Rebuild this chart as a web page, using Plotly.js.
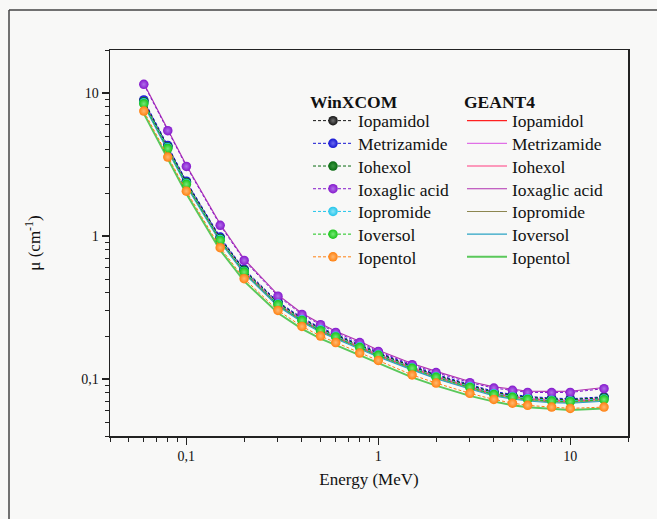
<!DOCTYPE html>
<html>
<head>
<meta charset="utf-8">
<script src="https://cdn.plot.ly/plotly-3.0.1.min.js"></script>
<style>html,body{margin:0;padding:0;background:#f8f8f7;}#chart{width:657px;height:519px;}</style>
</head>
<body>
<div id="chart"></div>
<script>
// Photon energies (MeV)
const energy = [0.06,0.08,0.1,0.15,0.2,0.3,0.4,0.5,0.6,0.8,1,1.5,2,3,4,5,6,8,10,15];

// Material names
const materials = ["Iopamidol","Metrizamide","Iohexol","Ioxaglic acid","Iopromide","Ioversol","Iopentol"];

// WinXCOM values (cm^-1)
const wx_iopamidol   = [8.79,4.24,2.39,0.97,0.58,0.343,0.266,0.226,0.204,0.172,0.152,0.123,0.1068,0.0907,0.081,0.0773,0.0748,0.0728,0.0721,0.0745];
const wx_metrizamide = [8.95,4.30,2.42,0.985,0.587,0.347,0.269,0.229,0.206,0.174,0.154,0.1245,0.108,0.0918,0.082,0.0782,0.0757,0.0737,0.0729,0.0752];
const wx_iohexol     = [8.70,4.20,2.37,0.962,0.576,0.340,0.264,0.224,0.202,0.171,0.151,0.122,0.106,0.090,0.0805,0.0768,0.0744,0.0724,0.0717,0.0741];
const wx_ioxaglic    = [11.5,5.46,3.07,1.19,0.676,0.380,0.283,0.240,0.212,0.180,0.156,0.126,0.111,0.0944,0.0865,0.0834,0.0807,0.0805,0.0807,0.0857];
const wx_iopromide   = [8.55,4.14,2.33,0.945,0.566,0.335,0.260,0.221,0.199,0.168,0.148,0.120,0.104,0.0885,0.079,0.0754,0.073,0.0711,0.0704,0.0727];
const wx_ioversol    = [8.43,4.09,2.30,0.933,0.560,0.331,0.257,0.218,0.197,0.166,0.1465,0.119,0.103,0.0875,0.078,0.0745,0.0721,0.0702,0.0695,0.0718];
const wx_iopentol    = [7.48,3.57,2.06,0.83,0.504,0.302,0.2336,0.200,0.180,0.152,0.135,0.107,0.0938,0.0795,0.0721,0.0679,0.0655,0.0637,0.0624,0.0637];

// GEANT4 values (cm^-1)
const g4_iopamidol   = [8.57,4.13,2.33,0.946,0.566,0.334,0.259,0.220,0.199,0.168,0.148,0.120,0.104,0.0884,0.079,0.0754,0.0729,0.071,0.0703,0.0726];
const g4_metrizamide = [8.73,4.19,2.36,0.960,0.572,0.338,0.262,0.223,0.201,0.170,0.150,0.1214,0.1053,0.0895,0.080,0.0762,0.0738,0.0719,0.0711,0.0733];
const g4_iohexol     = [8.48,4.10,2.31,0.938,0.562,0.332,0.257,0.218,0.197,0.167,0.147,0.119,0.1034,0.0878,0.0785,0.0749,0.0725,0.0706,0.0699,0.0722];
const g4_ioxaglic    = [11.7,5.57,3.13,1.215,0.69,0.388,0.289,0.245,0.216,0.184,0.159,0.1285,0.1132,0.0963,0.0882,0.0851,0.0823,0.0821,0.0823,0.0874];
const g4_iopromide   = [8.34,4.04,2.27,0.921,0.552,0.327,0.2535,0.2155,0.194,0.164,0.1443,0.117,0.1014,0.0863,0.077,0.0735,0.0712,0.0693,0.0686,0.0709];
const g4_ioversol    = [8.22,3.99,2.24,0.910,0.546,0.323,0.2506,0.2126,0.192,0.162,0.1428,0.116,0.1004,0.0853,0.0761,0.0726,0.0703,0.0684,0.0678,0.070];
const g4_iopentol    = [7.18,3.43,1.98,0.797,0.484,0.290,0.2243,0.192,0.173,0.146,0.1296,0.1027,0.090,0.0763,0.0696,0.0656,0.0635,0.0620,0.0608,0.0622];

// Tick labels
const xTickVals = [0.1,1,10];
const xTickText = ["0,1","1","10"];
const yTickVals = [0.1,1,10];
const yTickText = ["0,1","1","10"];

const wxSeries = [wx_iopamidol,wx_metrizamide,wx_iohexol,wx_ioxaglic,wx_iopromide,wx_ioversol,wx_iopentol];
const g4Series = [g4_iopamidol,g4_metrizamide,g4_iohexol,g4_ioxaglic,g4_iopromide,g4_ioversol,g4_iopentol];

const wxColors = ["#141414","#1414d2","#086a10","#8518cc","#22c4ea","#18c418","#ff8010"];
const wxLight  = ["#6e6e6e","#6a6aee","#3a9a40","#b070ea","#8ae4f8","#78e878","#ffb870"];
const g4Colors = ["#ff2020","#e070e6","#ff3a80","#b030b0","#8c8650","#2aa3c4","#5ac85a"];
const g4Widths = [1.1,1.1,1.1,1.1,1.1,1.1,2];

const traces = [];
g4Series.forEach((s,i)=>{
  traces.push({x:energy,y:s,type:'scatter',mode:'lines',name:materials[i],legend:'legend2',
    line:{color:g4Colors[i],width:g4Widths[i]},hoverinfo:'skip'});
});
wxSeries.forEach((s,i)=>{
  traces.push({x:energy,y:s,type:'scatter',mode:'lines+markers',name:materials[i],legend:'legend',
    line:{color:wxColors[i],width:1,dash:'3px,2px'},
    marker:{size:9.5,color:wxColors[i],gradient:{type:'radial',color:wxLight[i]},line:{width:0}},hoverinfo:'skip'});
});

const font = "'Liberation Serif', 'Times New Roman', serif";
const L = 110, R = 628, T = 50, B = 436;
const px = v => (v - L)/(R - L);
const py = v => (B - v)/(B - T);

const layout = {
  width:657, height:519,
  margin:{l:L, r:657-R, t:T, b:519-B},
  paper_bgcolor:'#f8f8f7', plot_bgcolor:'#f8f8f7',
  font:{family:font,size:14,color:'#111'},
  separators:', ',
  showlegend:true,
  xaxis:{type:'log', range:[Math.log10(0.04),Math.log10(20)], showline:true, mirror:true,
    linecolor:'#222', linewidth:1.5, ticks:'outside', ticklen:7, tickwidth:1.3, tickcolor:'#222',
    tickvals:xTickVals, ticktext:xTickText, showgrid:false, zeroline:false,
    minor:{dtick:'D1', ticks:'outside', ticklen:4, tickwidth:1, tickcolor:'#222', showgrid:false},
    tickfont:{family:font,size:14},
    title:{text:'Energy (MeV)', font:{family:font,size:17}, standoff:10}},
  yaxis:{type:'log', range:[Math.log10(0.04),Math.log10(20)], showline:true, mirror:true,
    linecolor:'#222', linewidth:1.5, ticks:'outside', ticklen:7, tickwidth:1.3, tickcolor:'#222',
    tickvals:yTickVals, ticktext:yTickText, showgrid:false, zeroline:false,
    minor:{dtick:'D1', ticks:'outside', ticklen:4, tickwidth:1, tickcolor:'#222', showgrid:false},
    tickfont:{family:font,size:14},
    title:{text:'μ (cm<sup>-1</sup>)', font:{family:font,size:17}, standoff:36}},
  legend:{x:px(308), y:py(85), xanchor:'left', yanchor:'top', bgcolor:'rgba(0,0,0,0)',
    font:{family:font,size:17.5}, itemwidth:40, tracegroupgap:0,
    title:{text:'<b>WinXCOM</b>', font:{family:font,size:17.5}}},
  legend2:{x:px(462), y:py(85), xanchor:'left', yanchor:'top', bgcolor:'rgba(0,0,0,0)',
    font:{family:font,size:17.5}, itemwidth:40, tracegroupgap:0,
    title:{text:'<b>GEANT4</b>', font:{family:font,size:17.5}}},
  shapes:[
    {type:'line', xref:'paper', yref:'paper', x0:px(9), x1:px(9), y0:py(10), y1:py(530), line:{color:'#444',width:1.5}},
    {type:'line', xref:'paper', yref:'paper', x0:px(9), x1:px(670), y0:py(10), y1:py(10), line:{color:'#444',width:1.5}}
  ]
};

const ROW = 22.7, FIRST_SHIFT = -5;
Plotly.newPlot('chart', traces, layout, {staticPlot:true}).then(()=>{
  // tighten legend row spacing to match the reference (both legends)
  const gd = document.getElementById('chart');
  const legends = Array.from(gd.querySelectorAll('g')).filter(g=>{
    const c = g.getAttribute('class')||'';
    return /^legend\d*$/.test(c.trim());
  });
  legends.forEach(lg=>{
    const items = lg.querySelectorAll('g.traces');
    let y0 = null;
    items.forEach((t,i)=>{
      const m = /translate\(\s*([-\d.e]+)[ ,]+([-\d.e]+)\s*\)/.exec(t.getAttribute('transform')||'');
      if(!m) return;
      if(y0 === null) y0 = parseFloat(m[2]) + FIRST_SHIFT;
      t.setAttribute('transform','translate('+m[1]+','+(y0 + i*ROW)+')');
    });
  });
});
</script>
</body>
</html>
